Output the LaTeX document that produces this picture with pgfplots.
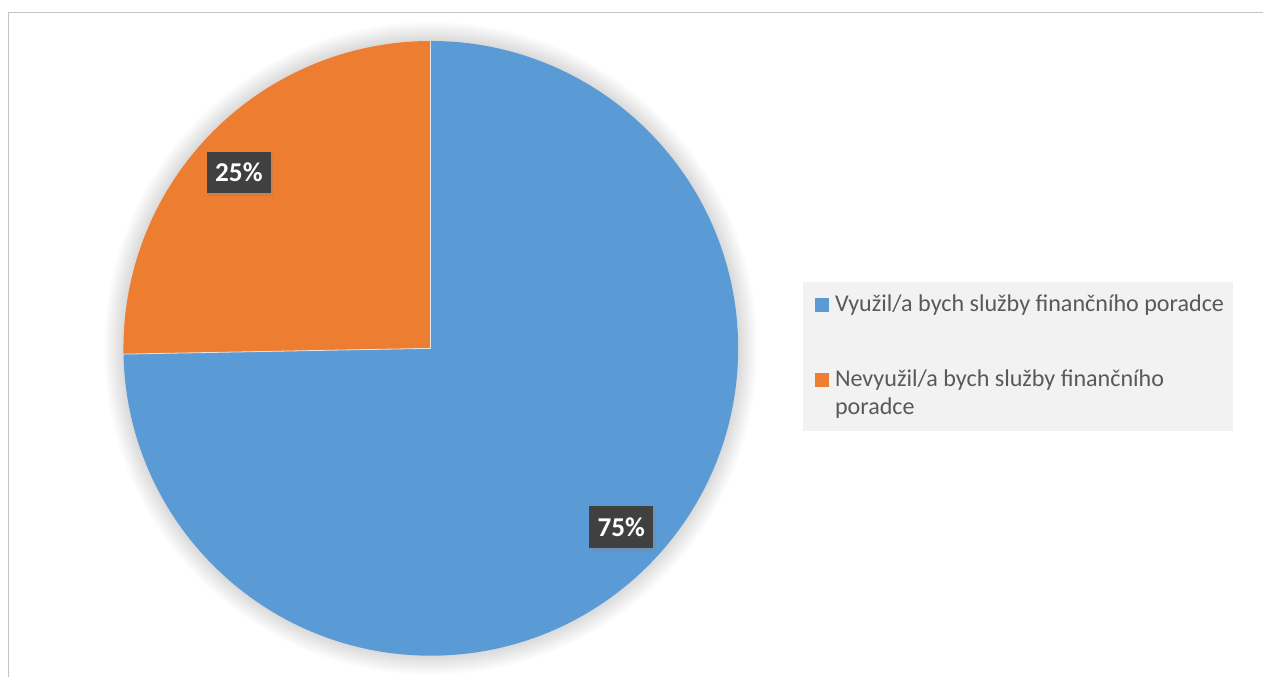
\documentclass[border=0pt]{standalone}
\usepackage{pgfplots}
\pgfplotsset{compat=1.18}
\usepackage{pgfplotstable}
\usepackage{fontspec}
\setmainfont{Carlito}
\usetikzlibrary{shadows}

\definecolor{pieblue}{HTML}{5B9BD5}
\definecolor{pieorange}{HTML}{ED7D31}
\definecolor{lblbox}{HTML}{404040}
\definecolor{legtext}{HTML}{595959}
\definecolor{legfill}{HTML}{F2F2F2}
\definecolor{framegray}{HTML}{C4C4C4}

% shares in percent (first slice starts at 12 o'clock, clockwise)
\pgfplotstableread{
share
74.7
25.3
}\pietable

\pgfplotstablegetelem{0}{share}\of\pietable
\pgfmathsetmacro\angA{90-3.6*\pgfplotsretval}
\pgfplotstablegetelem{1}{share}\of\pietable
\pgfmathsetmacro\angB{\angA-3.6*\pgfplotsretval}
\def\R{153.75bp}

\newcommand\legfont{\fontsize{12.05bp}{14.5bp}\selectfont}
\newcommand\lblfont{\bfseries\fontsize{13.6bp}{16bp}\selectfont}

\begin{document}
\begin{tikzpicture}
\begin{axis}[
    scale only axis,
    width=632bp, height=338.5bp,
    xmin=0, xmax=1264, ymin=0, ymax=677,
    y dir=reverse,
    hide axis,
    clip=false,
  ]
  \fill[white] (axis cs:0,0) rectangle (axis cs:1264,677);
  \draw[framegray, line width=0.6bp] (axis cs:8.5,677) -- (axis cs:8.5,12.5) -- (axis cs:1264,12.5);

  % soft glow round the pie
  \pgfplotsinvokeforeach{1,...,12}{
    \fill[black, opacity=0.011] (axis cs:431,348.5) circle[radius=153.75bp+#1*0.8bp];
  }

  % slices
  \fill[pieblue] (axis cs:431,348.5) -- ++(90:\R) arc[start angle=90, end angle=\angA, radius=\R] -- cycle;
  \fill[pieorange] (axis cs:431,348.5) -- ++(\angA:\R) arc[start angle=\angA, end angle=\angB, radius=\R] -- cycle;
  \draw[white!80!gray, line width=0.4bp] (axis cs:431,348.5) -- ++(90:\R);
  \draw[white!80!gray, line width=0.4bp] (axis cs:431,348.5) -- ++(\angA:\R);

  % data labels
  \node[fill=lblbox, text=white, font=\lblfont,
        minimum width=32bp, minimum height=20.5bp, inner sep=0pt,
        drop shadow={shadow xshift=1.2bp, shadow yshift=-1.5bp, opacity=0.3}]
        at (axis cs:239,172.5) {25\%};
  \node[fill=lblbox, text=white, font=\lblfont,
        minimum width=32bp, minimum height=21bp, inner sep=0pt,
        drop shadow={shadow xshift=1.2bp, shadow yshift=-1.5bp, opacity=0.3}]
        at (axis cs:621.5,527) {75\%};

  % legend
  \fill[legfill] (axis cs:803,282) rectangle (axis cs:1234,431);
  \fill[pieblue] (axis cs:815,298) rectangle (axis cs:829,312);
  \fill[pieorange] (axis cs:815,373) rectangle (axis cs:829,387);
  \node[anchor=base west, inner sep=0pt, text=legtext, font=\legfont]
        at (axis cs:835,312) {Využil/a bych služby finančního poradce};
  \node[anchor=base west, inner sep=0pt, text=legtext, font=\legfont]
        at (axis cs:835,387) {Nevyužil/a bych služby finančního};
  \node[anchor=base west, inner sep=0pt, text=legtext, font=\legfont]
        at (axis cs:835,415) {poradce};
\end{axis}
\end{tikzpicture}
\end{document}
